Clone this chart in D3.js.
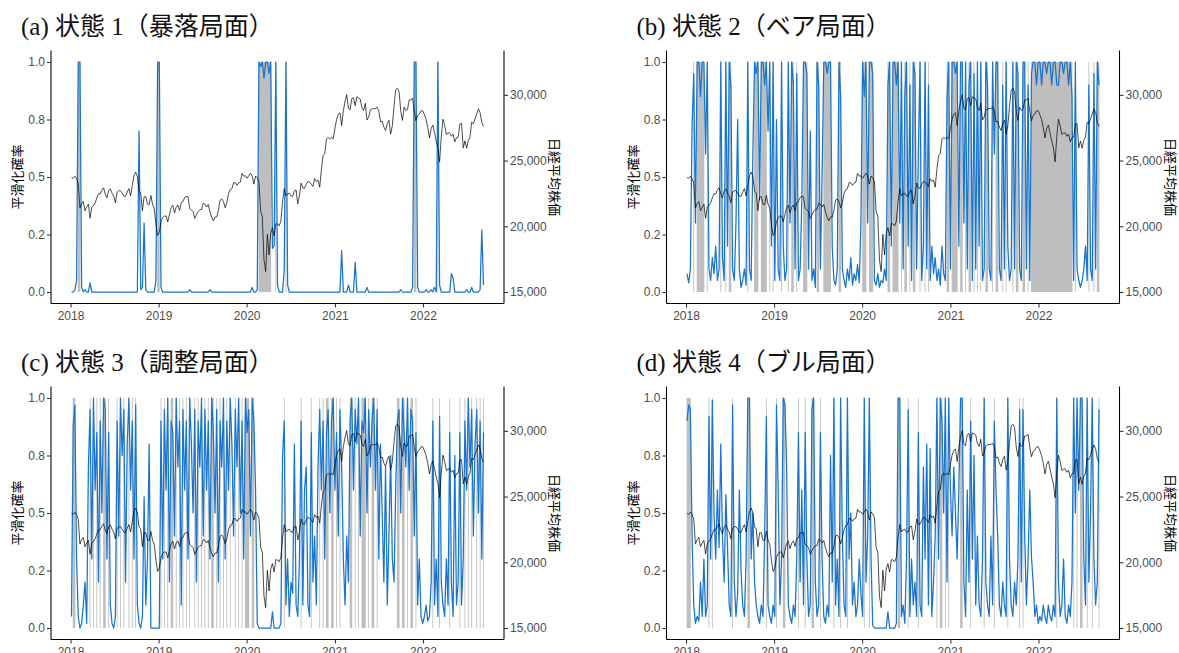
<!DOCTYPE html>
<html>
<head>
<meta charset="utf-8">
<script src="https://cdn.jsdelivr.net/npm/d3@7"></script>
<style>
  body { margin: 0; background: #fff; }
  svg { display: block; }
</style>
</head>
<body>
<div id="chart"></div>
<script>
// weekly (Friday) observations, Jan 2018 - Sep 2022

// Nikkei 225 (right axis)
const nikkei = [
  // 2018
  23714, 23653, 23808, 23631, 23274, 21382, 21720, 21892, 21182, 21469, 21676, 20617, 21454,
  21568, 21779, 22163, 22468, 22473, 22758, 22930, 22451, 22171, 22694, 22851, 22517, 22305,
  21788, 22597, 22698, 22712, 22525, 22298, 22270, 22601, 22865, 22307, 23095, 23870, 24120,
  23784, 22695, 22532, 21185, 22244, 22250, 21680, 21647, 22351, 21679, 21375, 20167, 19300,
  // 2019
  19561, 20360, 20666, 20774, 20788, 20333, 20901, 21426, 21603, 21026, 21451, 21627, 21206,
  21807, 21870, 22200, 22259, 22259, 21345, 21250, 21117, 20601, 20885, 21117, 21259, 21276,
  21746, 21686, 21467, 21659, 21088, 20685, 20419, 20711, 20704, 21200, 21988, 22079, 21879,
  21410, 21799, 22493, 22800, 22851, 23331, 23303, 23113, 23294, 23354, 24023, 23817, 23837,
  // 2020
  23657, 23851, 24041, 23827, 23205, 23828, 23688, 23387, 21143, 20750, 17431, 16553, 19389,
  17820, 19499, 19897, 19262, 20194, 20179, 20037, 20388, 21878, 22864, 22306, 22479, 22512,
  22306, 22291, 22697, 22751, 21710, 22330, 23289, 22921, 22883, 23206, 23406, 23360, 23205,
  23030, 23620, 23411, 23517, 22977, 24325, 25385, 25527, 26645, 26751, 26653, 26763, 26657,
  // 2021
  27444, 28139, 28519, 28631, 27663, 28779, 29520, 30018, 28966, 28864, 29718, 29792, 29177,
  29854, 29768, 29683, 29021, 28813, 29358, 28085, 28318, 28860, 28942, 28949, 28964, 29066,
  28783, 27940, 28003, 27548, 27284, 27820, 28070, 27013, 27641, 29129, 30382, 30500, 30249,
  28771, 28049, 29069, 28805, 28893, 29612, 29610, 29746, 28752, 28030, 28438, 28546, 28782, 28792,
  // 2022
  28479, 28124, 27522, 26717, 27440, 27697, 27122, 26477, 25985, 24900, 26827, 28150,
  27666, 26986, 27094, 27105, 26848, 27004, 26428, 26739, 26782, 27762, 27825, 25963, 26491,
  25936, 26518, 26788, 27915, 27802, 28176, 28547, 28930, 28642, 27900, 27600
];

// smoothed probabilities, state 1 (crash)
const probCrash = [
  0, 0, .01, .05, 1, 1, .02, 0, .01, 0, 0, .04, 0, 0, 0, 0, 0, 0, 0, 0,
  0, 0, 0, 0, 0, 0, 0, 0, 0, 0, 0, 0, 0, 0, 0, 0, 0, 0, 0, 0,
  .7, .01, .02, .3, .01, 0, 0, 0, 0, 0, .05, 1, 1, .02, 0, 0, 0, 0, 0, 0,
  0, 0, 0, 0, 0, 0, 0, 0, 0, 0, .01, 0, 0, 0, 0, 0, 0, 0, 0, 0,
  0, 0, .01, 0, 0, 0, 0, 0, 0, 0, 0, 0, 0, 0, 0, 0, 0, 0, 0, 0,
  0, 0, 0, 0, 0, 0, 0, .02, 0, 0, .01, 1, .98, 1, .93, 1, 1, .95, 1, .19,
  .2, 1, .03, 0, 0, 0, .1, 1, .03, 0, 0, 0, 0, 0, 0, 0, 0, 0, 0, 0,
  0, 0, 0, 0, 0, 0, 0, 0, 0, 0, 0, 0, 0, 0, 0, 0, 0, 0, 0, 0,
  .18, 0, 0, 0, .03, 0, 0, 0, .13, 0, 0, 0, 0, 0, 0, .02, 0, 0, 0, 0,
  0, 0, 0, 0, 0, 0, 0, 0, 0, 0, 0, 0, 0, 0, 0, .01, 0, 0, 0, 0,
  0, 0, .02, 1, 1, .02, 0, 0, 0, 0, .01, 0, 0, .01, 0, .02, 0, 1, .03, 0,
  0, 0, 0, 0, 0, .08, .06, 0, 0, 0, 0, 0, 0, 0, .01, 0, 0, .02, 0, 0,
  0, 0, .01, .27, .03
];

// state 2 (bear)
const probBear = [
  .08, .04, .1, .72, .95, .3, 1, 1, .85, 1, 1, .6, 1, .1, .05, .15, .08, .2, .05, .1,
  1, .15, .05, 1, .2, 1, .9, .1, .05, .3, .75, .1, .02, .05, .1, .03, 1, .1, .05, .6,
  1, .95, 1, .4, 1, 1, .9, 1, .7, 1, .2, 1, .05, .75, .1, .05, 1, .2, .05, .1,
  1, .3, 1, .9, .1, .95, .05, .1, .4, 1, 1, .95, .1, .7, .05, .1, .02, 1, .9, .1,
  .5, 1, 1, .95, 1, 1, .2, .05, .03, .1, 1, .85, .1, .05, .02, .1, .05, .15, .03, .08,
  .05, .12, .04, .3, 1, .85, 1, .3, 1, 1, .95, .05, .03, .08, .02, .05, .04, .1, .05, .9,
  1, .2, 1, 1, .9, 1, .3, 1, .1, .85, 1, .2, .9, .05, 1, .95, .1, .6, 1, .05,
  .2, 1, .1, .9, .05, .2, .08, .15, .05, .1, .03, .2, .08, .05, .85, 1, .1, 1, 1, .95,
  1, .2, 1, 1, .3, 1, .1, .9, 1, .05, .95, .1, 1, .2, 1, .05, .1, 1, .9, .1,
  .05, 1, .6, 1, 1, .1, .05, .9, .1, 1, .2, .05, .1, 1, .1, 1, .95, .1, .05, 1,
  1, .1, .9, .05, .95, 1, 1, .9, 1, 1, .9, 1, 1, .95, 1, 1, .9, 1, 1, .9,
  .9, 1, 1, .95, 1, 1, .9, 1, .85, .05, 1, .1, .05, .02, .05, .1, .2, .05, .9, .1,
  .05, .95, .1, 1, .9
];

// state 3 (adjustment)
const probAdjust = [
  .05, .88, .97, .3, .05, 0, .02, .1, .2, .02, .7, .95, .3, 1, .6, .85, .2, .9, .5, 1,
  .95, .3, .85, .1, .02, 0, .05, .9, .4, 1, .75, .95, .2, .8, 1, .6, .9, .3, .97, .1,
  .02, 0, .05, .57, .1, .3, .8, 0, 0, 0, 0, 0, 0, .9, .3, .95, .6, 1, .2, .9,
  .85, .4, 1, .7, .9, .1, .95, .6, .9, .3, 1, .8, .5, .95, .2, .9, .7, 1, .4, .95,
  .6, .9, .3, 1, .85, .5, .95, .2, .9, .7, 1, .3, .9, .6, 1, .8, .4, .95, .7, 1,
  .5, .9, .3, 1, .85, .95, .4, 1, .9, .6, .02, 0, 0, 0, 0, 0, 0, 0, 0, .07,
  0, 0, 0, 0, .02, .75, .9, .1, .3, .05, .2, .15, .8, .1, .05, .3, .9, .1, .6, .7,
  .1, .05, .85, .2, .4, .1, .7, .95, .6, .9, .3, .85, .95, .5, .9, 1, .6, .85, .4, .95,
  .7, .3, .1, .4, .2, .9, 1, .6, .95, .8, 1, .4, .9, .85, 1, .5, .95, .7, .9, 1,
  .6, .95, .3, .8, .5, .2, .7, .1, .4, .75, .3, .2, .6, .9, .95, .5, 1, .85, .7, 1,
  .6, .95, .9, .4, .85, .1, .3, .05, .02, .05, .1, .03, .05, .2, .9, .1, .3, .05, .92, .2,
  .1, .05, .3, .1, .85, .2, .05, .75, .1, .2, .85, .1, .3, .9, .6, 1, .7, .95, .4, .8,
  .95, .5, .9, .3, .85
];

// state 4 (bull)
const probBull = [
  .9, .97, .95, .4, .1, .02, .05, .03, .2, .05, .3, .05, .1, .92, .3, .99, .5, .3, .6, .35,
  .8, .4, .2, .58, .35, .1, .05, .97, .2, .05, .15, .6, .25, .1, .05, .3, 1, 1, .3, .5,
  .2, .1, .05, .02, .1, .05, .4, .92, .1, .05, .02, .1, .05, .97, .6, .1, .3, 1, .97, .7,
  .1, .05, .02, .1, .05, .3, .85, .2, .6, .1, .85, .3, .05, .1, .95, 1, .2, .05, .1, .85,
  .3, .05, .02, .1, .05, .75, .2, 1, .1, .3, .05, 1, .4, .1, .05, 1, .3, .5, .1, .2,
  .05, .1, .3, .15, .05, 1, .2, .4, 1, .3, .01, 0, 0, 0, 0, 0, 0, 0, 0, .07,
  0, 0, 0, 0, .02, 1, 1, .05, .1, .02, .3, .95, .05, .3, .1, .2, .05, .85, .1, .05,
  .7, .3, .8, .1, .78, .05, .2, .4, 1, .3, 1, .9, .5, 1, .2, 1, .6, .4, .7, .5,
  .3, .6, 1, 1, .2, .05, .6, .2, .9, .3, .75, .1, .4, .1, .05, .3, 1, .2, .1, .05,
  .4, .1, .9, .6, .4, .1, .05, .2, .1, .05, 1, .3, .1, .05, .2, .1, .3, .95, .2, .95,
  .4, .1, .3, .6, .31, .2, .05, .1, .02, .05, .03, .1, .05, .02, .1, .05, .03, .1, .05, 1,
  .2, .05, .1, .3, .05, .02, .1, .05, .2, 1, .5, 1, .6, 1, 1, .3, .1, 1, .2, .5,
  1, .3, .1, .2, .95
];

const panelTitles = ["(a) 状態 1（暴落局面）", "(b) 状態 2（ベア局面）", "(c) 状態 3（調整局面）", "(d) 状態 4（ブル局面）"];
const probTicks = [0, 0.25, 0.5, 0.75, 1];
const probTickLabels = ["0.0", "0.2", "0.5", "0.8", "1.0"];
const priceTicks = [15000, 20000, 25000, 30000];
const yearTicks = [2018, 2019, 2020, 2021, 2022];

//<<< setup >>>
const W = 1179, H = 653;
const svg = d3.select("#chart").append("svg")
  .attr("width", W).attr("height", H)
  .style("font-family", "'Liberation Sans', Arial, sans-serif");

const dates = d3.timeFriday.range(new Date(2018, 0, 5), new Date(2022, 8, 10));
[["nikkei", nikkei], ["probCrash", probCrash], ["probBear", probBear], ["probAdjust", probAdjust], ["probBull", probBull]]
  .forEach(([k, a]) => { if (a.length !== dates.length) throw new Error(k + " has " + a.length + " values, expected " + dates.length); });

const x = d3.scaleTime()
  .domain([d3.timeDay.offset(dates[0], -85), d3.timeDay.offset(dates[dates.length - 1], 85)])
  .range([51, 504]);
const y = d3.scaleLinear().domain([-0.05, 1.05]).range([303.5, 50.5]);
// secondary axis: 15,000-32,500 sits on 0-1
const y2 = d3.scaleLinear().domain([15000 - 875, 32500 + 875]).range([303.5, 50.5]);

const panels = [
  { title: panelTitles[0], prob: probCrash, dx: 0, dy: 0 },
  { title: panelTitles[1], prob: probBear, dx: 615.5, dy: 0 },
  { title: panelTitles[2], prob: probAdjust, dx: 0, dy: 336 },
  { title: panelTitles[3], prob: probBull, dx: 615.5, dy: 336 }
];

const shadeCut = 0.8;   // weeks classified into the state
const halfSpan = 42;    // hours either side of a shaded run's first/last week

function styleAxis(g) {
  g.select(".domain").attr("stroke", "#000").attr("stroke-width", 1.07);
  g.selectAll(".tick line").attr("stroke", "#333").attr("stroke-width", 1.07);
  g.selectAll(".tick text").attr("fill", "#4d4d4d").style("font-size", "12px");
}

panels.forEach(function(p) {
  const g = svg.append("g").attr("transform", "translate(" + p.dx + "," + p.dy + ")");

  // regime shading
  const runs = [];
  let start = -1;
  p.prob.forEach(function(v, i) {
    if (v > shadeCut && start < 0) start = i;
    if ((v <= shadeCut || i === p.prob.length - 1) && start >= 0) {
      runs.push([start, v > shadeCut ? i : i - 1]);
      start = -1;
    }
  });
  g.append("g").selectAll("rect")
    .data(runs)
    .enter().append("rect")
    .attr("x", d => x(d3.timeHour.offset(dates[d[0]], -halfSpan)))
    .attr("width", d => x(d3.timeHour.offset(dates[d[1]], halfSpan)) - x(d3.timeHour.offset(dates[d[0]], -halfSpan)))
    .attr("y", y(1))
    .attr("height", y(0) - y(1))
    .attr("fill", "#bebebe");

  // smoothed probability
  g.append("path")
    .datum(p.prob)
    .attr("fill", "none")
    .attr("stroke", "#1874cd")
    .attr("stroke-width", 1.25)
    .attr("stroke-linejoin", "round")
    .attr("d", d3.line().x((d, i) => x(dates[i])).y(d => y(d)));

  // Nikkei
  g.append("path")
    .datum(nikkei)
    .attr("fill", "none")
    .attr("stroke", "#000")
    .attr("stroke-width", 0.7)
    .attr("d", d3.line().x((d, i) => x(dates[i])).y(d => y2(d)));

  // axes
  g.append("g").attr("transform", "translate(51,0)")
    .call(d3.axisLeft(y).tickValues(probTicks).tickFormat((d, i) => probTickLabels[i]).tickSizeOuter(0).tickSize(4).tickPadding(2))
    .call(styleAxis)
    .select(".domain").attr("d", "M0,50.5V303.5");

  g.append("g").attr("transform", "translate(504,0)")
    .call(d3.axisRight(y2).tickValues(priceTicks).tickFormat(d3.format(",")).tickSizeOuter(0).tickSize(4).tickPadding(2))
    .call(styleAxis)
    .select(".domain").attr("d", "M0,50.5V303.5");

  g.append("g").attr("transform", "translate(0,303.5)")
    .call(d3.axisBottom(x).tickValues(yearTicks.map(yr => new Date(yr, 0, 1))).tickFormat(d3.timeFormat("%Y")).tickSizeOuter(0).tickSize(4).tickPadding(3.5))
    .call(styleAxis)
    .select(".domain").attr("d", "M51,0H504");

  // axis titles
  g.append("text")
    .attr("transform", "translate(22,177) rotate(-90)")
    .attr("text-anchor", "middle")
    .style("font-family", "'Noto Sans CJK JP', sans-serif")
    .style("font-size", "13px")
    .text("平滑化確率");

  g.append("text")
    .attr("transform", "translate(550,177) rotate(90)")
    .attr("text-anchor", "middle")
    .style("font-family", "'Noto Sans CJK JP', sans-serif")
    .style("font-size", "13px")
    .text("日経平均株価");

  // panel title
  g.append("text")
    .attr("x", 21)
    .attr("y", 35)
    .style("font-family", "'Liberation Serif', 'Noto Sans CJK JP', serif")
    .style("font-size", "25px")
    .attr("fill", "#111")
    .text(p.title);
});
</script>
</body>
</html>
